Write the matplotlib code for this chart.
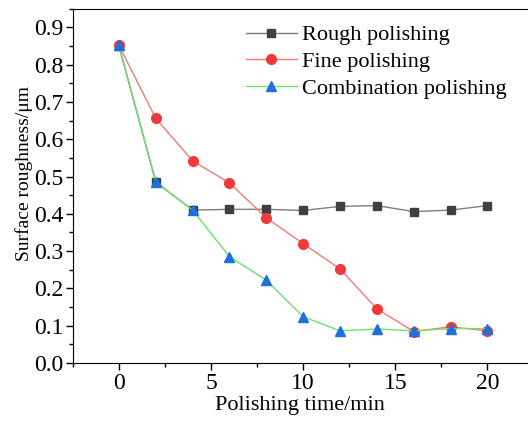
import matplotlib
matplotlib.use("Agg")
import matplotlib.pyplot as plt
from matplotlib.ticker import MultipleLocator, FormatStrFormatter

time_min = [0, 2, 4, 6, 8, 10, 12, 14, 16, 18, 20]
rough = [0.85, 0.485, 0.41, 0.412, 0.412, 0.409, 0.42, 0.422, 0.406, 0.41, 0.422]
fine = [0.852, 0.656, 0.542, 0.483, 0.389, 0.32, 0.252, 0.145, 0.084, 0.097, 0.086]
combination = [0.852, 0.486, 0.41, 0.285, 0.222, 0.124, 0.086, 0.091, 0.086, 0.092, 0.092]

plt.rcParams['font.family'] = ['Liberation Serif', 'DejaVu Serif']

fig = plt.figure(figsize=(5.28, 4.21), dpi=100)
ax = fig.add_axes([0.138, 0.138, 0.862, 0.841])

ax.plot(time_min, rough, '-s', color='#7f7f7f', lw=1, markerfacecolor='#404040',
        markeredgecolor='#404040', markersize=6, label='Rough polishing')
ax.plot(time_min, fine, '-o', color='#f07a7a', lw=1, markerfacecolor='#f03a3a',
        markeredgecolor='#f03a3a', markersize=7, label='Fine polishing')
ax.plot(time_min, combination, '-^', color='#6ee06e', lw=1, markerfacecolor='#1f6fdc',
        markeredgecolor='#1f6fdc', markersize=7, label='Combination polishing')

ax.set_xlim(-2.5, 22.2)
ax.set_ylim(0, 0.95)
ax.xaxis.set_major_locator(MultipleLocator(5))
ax.xaxis.set_minor_locator(MultipleLocator(2.5))
ax.yaxis.set_major_locator(MultipleLocator(0.1))
ax.yaxis.set_minor_locator(MultipleLocator(0.05))
ax.yaxis.set_major_formatter(FormatStrFormatter('%.1f'))
ax.tick_params(which='major', direction='out', length=5, width=1, labelsize=17, pad=2)
ax.tick_params(which='minor', direction='out', length=3, width=1)
ax.spines['right'].set_visible(False)

ax.set_xlabel('Polishing time/min', fontsize=16)
ax.xaxis.set_label_coords(0.5, -0.093)
ax.set_ylabel('Surface roughness/μm', fontsize=14)
ax.yaxis.set_label_coords(-0.088, 0.534)

ax.legend(loc='upper left', fontsize=16, frameon=False, handlelength=2.3,
          borderaxespad=0, borderpad=0, labelspacing=0.28, handletextpad=0.25,
          bbox_to_anchor=(0.38, 0.955))

fig.savefig('out.png', dpi=100)
